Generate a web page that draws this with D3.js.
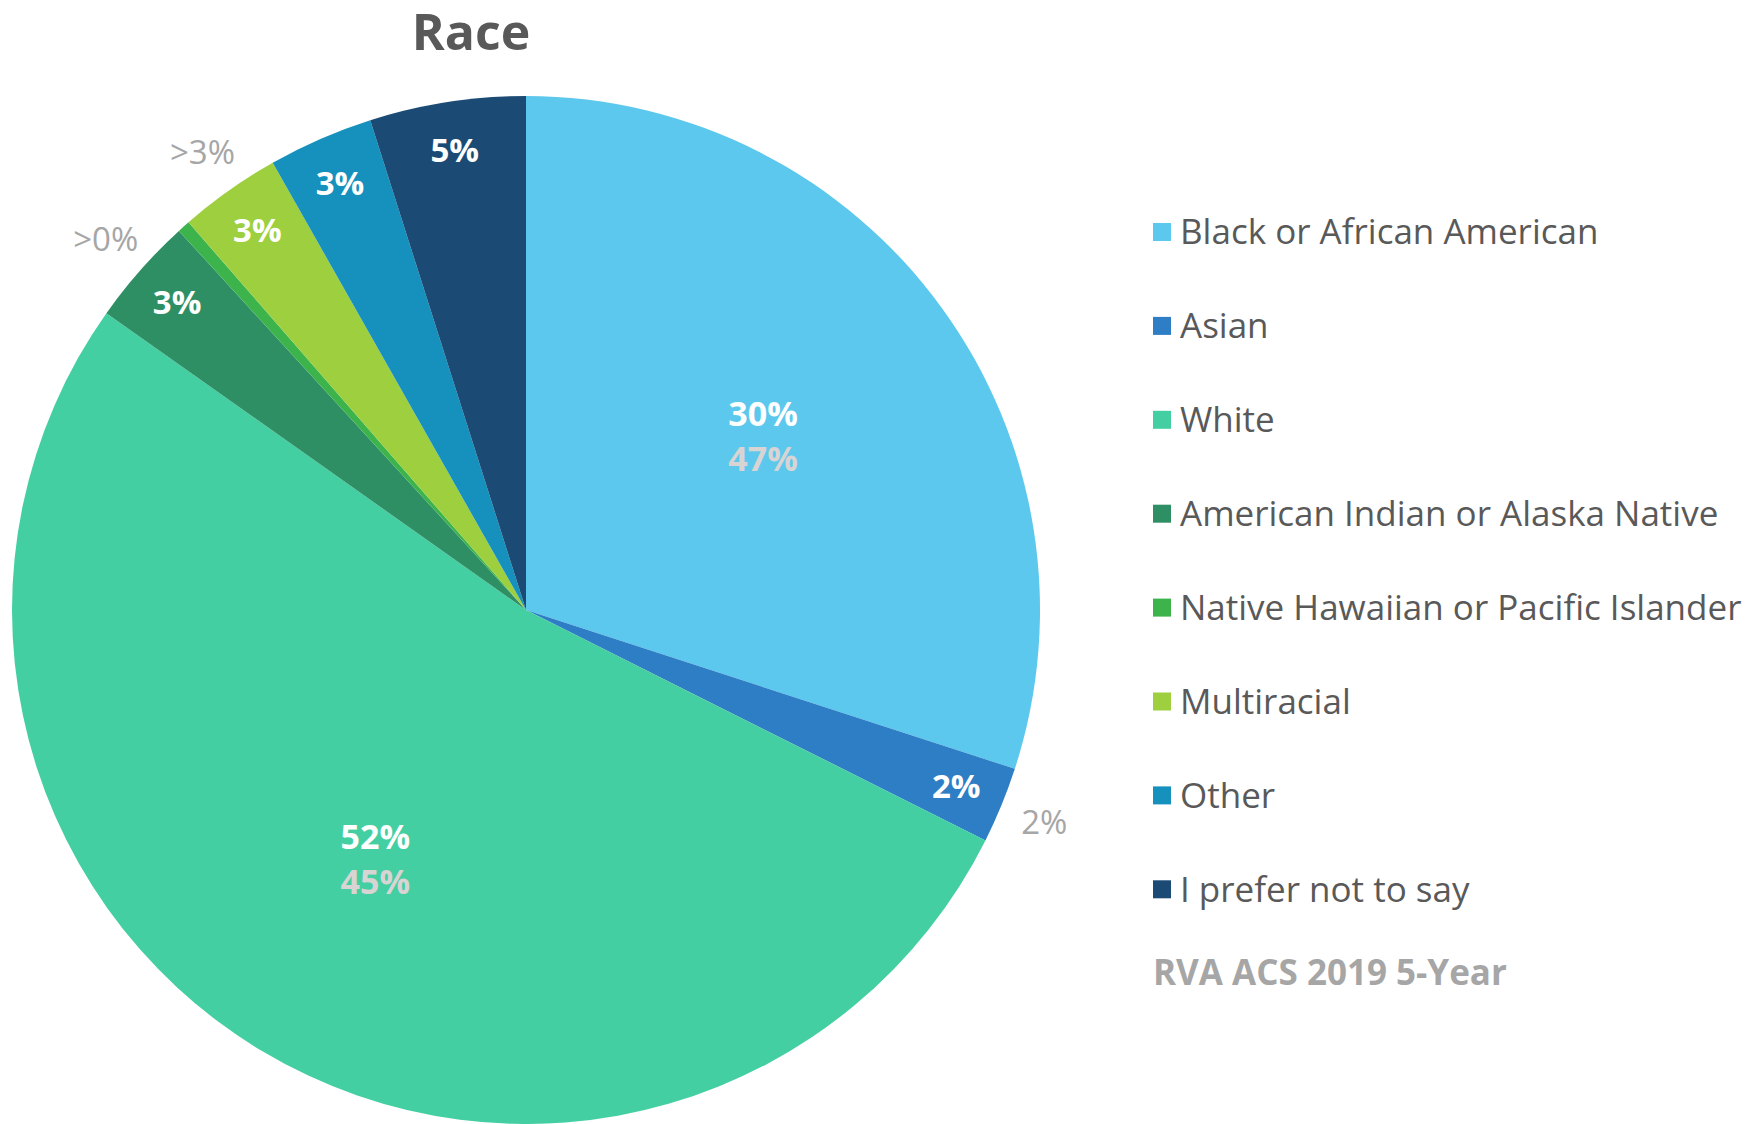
<!DOCTYPE html>
<html>
<head>
<meta charset="utf-8">
<script src="https://cdn.jsdelivr.net/npm/d3@7"></script>
<style>
  html, body { margin: 0; padding: 0; background: #ffffff; }
  svg { display: block; }
  text { font-family: "Open Sans", "Lato", sans-serif; }
</style>
</head>
<body>
<svg id="chart" width="1752" height="1124"></svg>
<script>
// ---- data ----
const categories = [
  "Black or African American",
  "Asian",
  "White",
  "American Indian or Alaska Native",
  "Native Hawaiian or Pacific Islander",
  "Multiracial",
  "Other",
  "I prefer not to say"
];
const surveyValues = [30, 2.4, 52.4, 3.4, 0.4, 3.2, 3.3, 4.9];
const acsLabels = ["47%", "2%", "45%", ">0%", "", ">3%", "", ""];
const colors = ["#5cc8ed", "#2e7ec5", "#44cfa3", "#2f8f64", "#3cb44b", "#9dcf3f", "#1690bd", "#1b4b74"];
const title = "Race";
const sourceNote = "RVA ACS 2019 5-Year";

// ---- layout ----
const svg = d3.select("#chart");
const cx = 526, cy = 610, R = 514;

const rows = categories.map((c, i) => ({ name: c, value: surveyValues[i], acs: acsLabels[i], color: colors[i] }));

const pie = d3.pie().sort(null).value(d => d.value).startAngle(0).endAngle(2 * Math.PI);
const arcs = pie(rows);
const arc = d3.arc().innerRadius(0).outerRadius(R);

const g = svg.append("g").attr("transform", `translate(${cx},${cy})`);

g.selectAll("path.slice")
  .data(arcs)
  .join("path")
  .attr("class", "slice")
  .attr("d", arc)
  .attr("fill", d => d.data.color);

// labels
const innerArcBig = d3.arc().innerRadius(R * 0.57).outerRadius(R * 0.57);
const innerArcSmall = d3.arc().innerRadius(R * 0.905).outerRadius(R * 0.905);
const outerArc = d3.arc().innerRadius(R * 1.09).outerRadius(R * 1.09);

const fmt = v => Math.round(v) + "%";

arcs.forEach(d => {
  const big = d.data.value > 10;
  if (big) {
    const [x, y] = innerArcBig.centroid(d);
    g.append("text")
      .attr("x", x).attr("y", y - 12)
      .attr("text-anchor", "middle")
      .attr("fill", "#ffffff")
      .attr("font-weight", 700)
      .attr("font-size", 34)
      .text(fmt(d.data.value));
    g.append("text")
      .attr("x", x).attr("y", y + 33)
      .attr("text-anchor", "middle")
      .attr("fill", "#d9d4d4")
      .attr("font-weight", 700)
      .attr("font-size", 34)
      .text(d.data.acs);
  } else {
    if (d.data.value >= 1) {
      const [x, y] = innerArcSmall.centroid(d);
      g.append("text")
        .attr("x", x).attr("y", y)
        .attr("dy", "0.35em")
        .attr("text-anchor", "middle")
        .attr("fill", "#ffffff")
        .attr("font-weight", 700)
        .attr("font-size", 33)
        .text(fmt(d.data.value));
    }
    if (d.data.acs) {
      const [x, y] = outerArc.centroid(d);
      g.append("text")
        .attr("x", x).attr("y", y)
        .attr("dy", "0.35em")
        .attr("text-anchor", "middle")
        .attr("fill", "#a6a6a6")
        .attr("font-size", 33)
        .text(d.data.acs);
    }
  }
});

// title
svg.append("text")
  .attr("x", 471).attr("y", 50)
  .attr("text-anchor", "middle")
  .attr("fill", "#595959")
  .attr("font-weight", 700)
  .attr("font-size", 50)
  .text(title);

// legend
const legX = 1153, legY0 = 232, legStep = 93.9, sw = 18;
const leg = svg.append("g");
rows.forEach((d, i) => {
  const y = legY0 + i * legStep;
  leg.append("rect")
    .attr("x", legX).attr("y", y - sw / 2)
    .attr("width", sw).attr("height", sw)
    .attr("fill", d.color);
  leg.append("text")
    .attr("x", legX + 27).attr("y", y)
    .attr("dy", "0.35em")
    .attr("fill", "#595959")
    .attr("font-size", 35)
    .text(d.name);
});
svg.append("text")
  .attr("x", legX).attr("y", 973)
  .attr("dy", "0.35em")
  .attr("fill", "#a6a6a6")
  .attr("font-weight", 700)
  .attr("font-size", 35)
  .text(sourceNote);
</script>
</body>
</html>
